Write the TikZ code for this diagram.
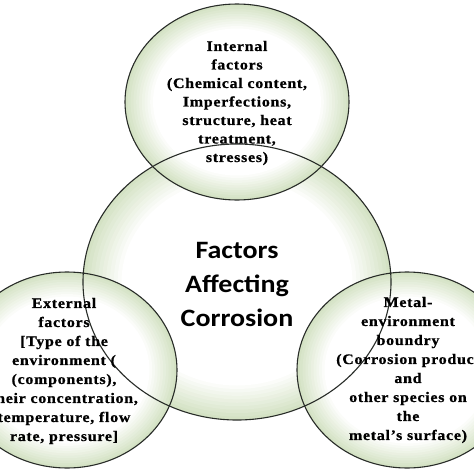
\documentclass[tikz,border=0pt]{standalone}
\usepackage{fontspec}
\setmainfont{Liberation Serif}
\newfontfamily\satfont[FakeStretch=1.1,LetterSpace=5,FakeBold=0.8]{Liberation Serif}
\newfontfamily\corefont[FakeStretch=1.12]{Carlito}
\definecolor{edgegreen}{RGB}{212,226,196}
\definecolor{rimgray}{RGB}{40,44,40}
\begin{document}
\begin{tikzpicture}[x=1pt,y=-1pt,
  rim/.style={draw=rimgray, line width=1.1pt},
  sat/.style={align=center, inner sep=0pt, text=black, font=\satfont\bfseries\fontsize{14.5}{19}\selectfont},
  core/.style={align=center, inner sep=0pt, text=black, font=\corefont\bfseries\fontsize{25}{34}\selectfont}]
\useasboundingbox (0,0) rectangle (474,474);
\clip (0,0) rectangle (474,474);
\fill[white] (0,0) rectangle (474,474);
% centres
\coordinate (ctr) at (237,282);
\coordinate (ptop) at (237,102);
\coordinate (pleft) at (67,370);
\coordinate (pright) at (407,370);
% graded fills (edge green fading to white)
\foreach \c/\rx/\ry in {ctr/154/138, ptop/112/98, pleft/110/98, pright/110/98}{
  \foreach \i in {0,...,10}{
    \pgfmathsetmacro{\s}{1-0.025*\i}
    \pgfmathsetmacro{\p}{100-\i*10}
    \fill[edgegreen!\p!white] (\c) ellipse [x radius=\s*\rx, y radius=\s*\ry];
  }
}
% outlines
\draw[rim] (ctr) ellipse [x radius=154, y radius=138];
\draw[rim] (ptop) ellipse [x radius=112, y radius=98];
\draw[rim] (pleft) ellipse [x radius=110, y radius=98];
\draw[rim] (pright) ellipse [x radius=110, y radius=98];
% texts
\node[core] (tcore) at (237,284) {Factors\\Affecting\\Corrosion};
\node[sat, font=\satfont\bfseries\fontsize{14.5}{18.5}\selectfont] (ttop) at (237,103)
  {Internal\\factors\\(Chemical content,\\Imperfections,\\structure, heat\\treatment,\\stresses)};
\node[sat] (tleft) at (64,371)
  {External\\factors\\{[}Type of the\\environment (\\(components),\\their concentration,\\temperature, flow\\rate, pressure{]}};
\node[sat] (tright) at (408,370)
  {Metal-\\environment\\boundry\\(Corrosion product\\and\\other species on\\the\\metal’s surface)};
\end{tikzpicture}
\end{document}
